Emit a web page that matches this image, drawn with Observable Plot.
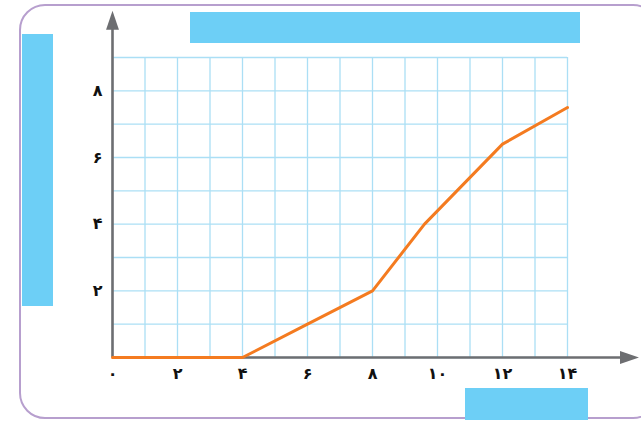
<!DOCTYPE html>
<html>
<head>
<meta charset="utf-8">
<script src="https://cdn.jsdelivr.net/npm/d3@7"></script>
<script src="https://cdn.jsdelivr.net/npm/@observablehq/plot@0.6"></script>
<style>
  html, body { margin: 0; padding: 0; background: #fff; overflow: hidden; }
  #wrap { position: relative; width: 641px; height: 426px; overflow: hidden; }
  #wrap svg { position: absolute; left: 0; top: 0; }
  .frame { position: absolute; left: 19px; top: 4px; width: 640px; height: 415px;
           border: 2.5px solid #b79fce; border-radius: 26px; box-sizing: border-box; }
  .box { position: absolute; background: #6dcff6; }
</style>
</head>
<body>
<div id="wrap">
  <div class="frame"></div>
</div>
<script>
// Data
const xValues = [0, 4, 6, 8, 9.6, 12, 14];
const yValues = [0, 0, 1, 2, 4, 6.4, 7.5];
const xTicks = [0, 2, 4, 6, 8, 10, 12, 14];
const yTicks = [2, 4, 6, 8];
const xGrid = d3.range(0, 15);
const yGrid = d3.range(0, 10);
const xAxisEnd = 16.2;   // arrow tip of x axis (data units)
const yAxisEnd = 10.4;   // arrow tip of y axis (data units)

const persian = n => String(n).replace(/\d/g, d => "۰۱۲۳۴۵۶۷۸۹"[d]);
const data = xValues.map((x, i) => ({x, y: yValues[i]}));

// custom arrowhead symbol (pointing up), narrow isoceles triangle
const arrowHead = {
  draw(ctx, size) {
    const h = Math.sqrt(size);
    const w = h * 0.68;
    ctx.moveTo(0, -h / 2);
    ctx.lineTo(w / 2, h / 2);
    ctx.lineTo(-w / 2, h / 2);
    ctx.closePath();
  }
};

const axisColor = "#6d6e71";

const chart = Plot.plot({
  width: 641,
  height: 426,
  marginLeft: 112,
  marginRight: 74,
  marginTop: 57,
  marginBottom: 69,
  style: {fontFamily: "DejaVu Sans", fontSize: "16px", color: "#111", background: "transparent", overflow: "visible"},
  x: {domain: [0, 14]},
  y: {domain: [0, 9]},
  marks: [
    Plot.gridX(xGrid, {stroke: "#abdff5", strokeOpacity: 1, strokeWidth: 1.3}),
    Plot.gridY(yGrid, {stroke: "#abdff5", strokeOpacity: 1, strokeWidth: 1.3}),
    // axis lines
    Plot.ruleY([0], {x1: 0, x2: xAxisEnd - 0.4, stroke: axisColor, strokeWidth: 2.6, clip: false}),
    Plot.ruleX([0], {y1: 0, y2: yAxisEnd - 0.4, stroke: axisColor, strokeWidth: 2.6, clip: false}),
    // arrowheads
    Plot.dot([{x: xAxisEnd, y: 0}], {x: "x", y: "y", symbol: arrowHead, r: 10.7, rotate: 90,
      fill: axisColor, stroke: "none", dx: -9.5, clip: false}),
    Plot.dot([{x: 0, y: yAxisEnd}], {x: "x", y: "y", symbol: arrowHead, r: 10.7,
      fill: axisColor, stroke: "none", dy: 9.5, clip: false}),
    Plot.axisX(xTicks, {tickSize: 0, tickPadding: 10, tickFormat: persian, label: null, fontWeight: "bold", fontSize: 16}),
    Plot.axisY(yTicks, {tickSize: 0, tickPadding: 10, tickFormat: persian, label: null, fontWeight: "bold", fontSize: 16}),
    Plot.line(data, {x: "x", y: "y", stroke: "#f47b20", strokeWidth: 3, strokeLinejoin: "miter"})
  ]
});

const wrap = document.getElementById("wrap");
wrap.insertBefore(chart, wrap.firstChild);

// placeholder label boxes
const boxes = [
  {left: 22, top: 34, width: 31, height: 272},
  {left: 190, top: 12, width: 390, height: 31},
  {left: 465, top: 388, width: 123, height: 32}
];
for (const b of boxes) {
  const d = document.createElement("div");
  d.className = "box";
  Object.assign(d.style, {left: b.left + "px", top: b.top + "px", width: b.width + "px", height: b.height + "px"});
  wrap.appendChild(d);
}
</script>
</body>
</html>
